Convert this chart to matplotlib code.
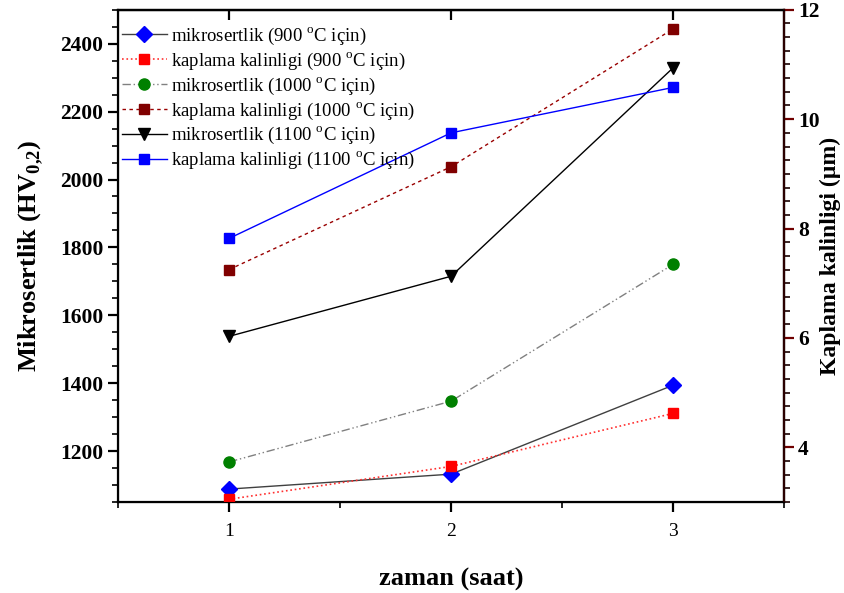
import numpy as np
import matplotlib.pyplot as plt
from matplotlib.ticker import MultipleLocator

plt.rcParams['font.family'] = ['Liberation Serif', 'DejaVu Serif']
plt.rcParams['mathtext.fontset'] = 'custom'
plt.rcParams['mathtext.rm'] = 'Liberation Serif'
plt.rcParams['mathtext.bf'] = 'Liberation Serif:bold'

# data
zaman = [1, 2, 3]
mikro_900 = [1088, 1132, 1394]
mikro_1000 = [1168, 1347, 1750]
mikro_1100 = [1538, 1715, 2329]
kaplama_900 = [3.05, 3.65, 4.62]
kaplama_1000 = [7.25, 9.13, 11.65]
kaplama_1100 = [7.82, 9.75, 10.58]

fig = plt.figure(figsize=(8.44, 5.93), dpi=100)
ax = fig.add_axes([0.14, 0.1535, 0.789, 0.83])
ax2 = ax.twinx()

h1, = ax.plot(zaman, mikro_900, color='#404040', lw=1, marker='D', ms=8,
              mfc='#0000ff', mec='#0000ff', label='mikrosertlik (900 $^{\\mathrm{o}}$C için)')
h2, = ax2.plot(zaman, kaplama_900, color='#ff3030', lw=1.2, ls=':', marker='s', ms=7.5,
               mfc='#ff0000', mec='#ff0000', label='kaplama kalinligi (900 $^{\\mathrm{o}}$C için)')
h3, = ax.plot(zaman, mikro_1000, color='#808080', lw=1, ls=(0, (6, 2, 1, 2, 1, 2)), marker='o', ms=8,
              mfc='#008000', mec='#008000', label='mikrosertlik (1000 $^{\\mathrm{o}}$C için)')
h4, = ax2.plot(zaman, kaplama_1000, color='#990000', lw=1, ls=(0, (2.5, 2.5)), marker='s', ms=7.5,
               mfc='#800000', mec='#800000', label='kaplama kalinligi (1000 $^{\\mathrm{o}}$C için)')
h5, = ax.plot(zaman, mikro_1100, color='black', lw=1, marker='v', ms=9,
              mfc='black', mec='black', label='mikrosertlik (1100 $^{\\mathrm{o}}$C için)')
h6, = ax2.plot(zaman, kaplama_1100, color='#0000ff', lw=1, marker='s', ms=7.5,
               mfc='#0000ff', mec='#0000ff', label='kaplama kalinligi (1100 $^{\\mathrm{o}}$C için)')

ax.set_xlim(0.5, 3.5)
ax.set_ylim(1050, 2500)
ax2.set_ylim(3, 12)

ax.xaxis.set_major_locator(MultipleLocator(1))
ax.xaxis.set_minor_locator(MultipleLocator(0.5))
ax.yaxis.set_major_locator(MultipleLocator(200))
ax.yaxis.set_minor_locator(MultipleLocator(50))
ax2.yaxis.set_major_locator(MultipleLocator(2))
ax2.yaxis.set_minor_locator(MultipleLocator(0.25))

for s in ax.spines.values():
    s.set_linewidth(1.6)
ax2.spines['right'].set_linewidth(1.6)
ax2.spines['right'].set_color('#2a0000')

# bottom ticks outward, top ticks inward (major only)
ax.tick_params(axis='x', which='major', direction='out', length=7, width=1.6, labelsize=14, pad=8)
ax.tick_params(axis='x', which='minor', direction='out', length=4, width=1.2)
sec = ax.secondary_xaxis('top')
sec.set_xticks(zaman)
sec.tick_params(direction='in', length=7, width=1.6, labeltop=False)
sec.xaxis.set_minor_locator(plt.NullLocator())
sec.spines['top'].set_linewidth(1.6)

ax.tick_params(axis='y', which='major', direction='out', length=7, width=1.6, labelsize=15.5)
ax.tick_params(axis='y', which='minor', direction='out', length=4, width=1.2)
ax2.tick_params(axis='y', which='major', direction='out', length=7, width=1.6, labelsize=15.5,
                color='#700000', pad=3)
ax2.tick_params(axis='y', which='minor', direction='out', length=4, width=1.2, color='#1a0000')

for lab in ax.get_yticklabels() + ax2.get_yticklabels():
    lab.set_fontweight('bold')

ax.set_xlabel('zaman (saat)', fontsize=19, fontweight='bold', labelpad=20)
ax.set_ylabel('Mikrosertlik (HV$_{\\mathbf{0{,}2}}$)', fontsize=19, fontweight='bold', labelpad=10)
ax2.set_ylabel('Kaplama kalinligi (µm)', fontsize=17, fontweight='bold', labelpad=0)

ax2.legend(handles=[h1, h2, h3, h4, h5, h6], loc='upper left', frameon=False, fontsize=13.5,
           handlelength=2.4, handletextpad=0.2, labelspacing=0.2,
           borderaxespad=0.0, borderpad=0.2, bbox_to_anchor=(0.0, 0.975))

fig.savefig('out.png', dpi=100)
